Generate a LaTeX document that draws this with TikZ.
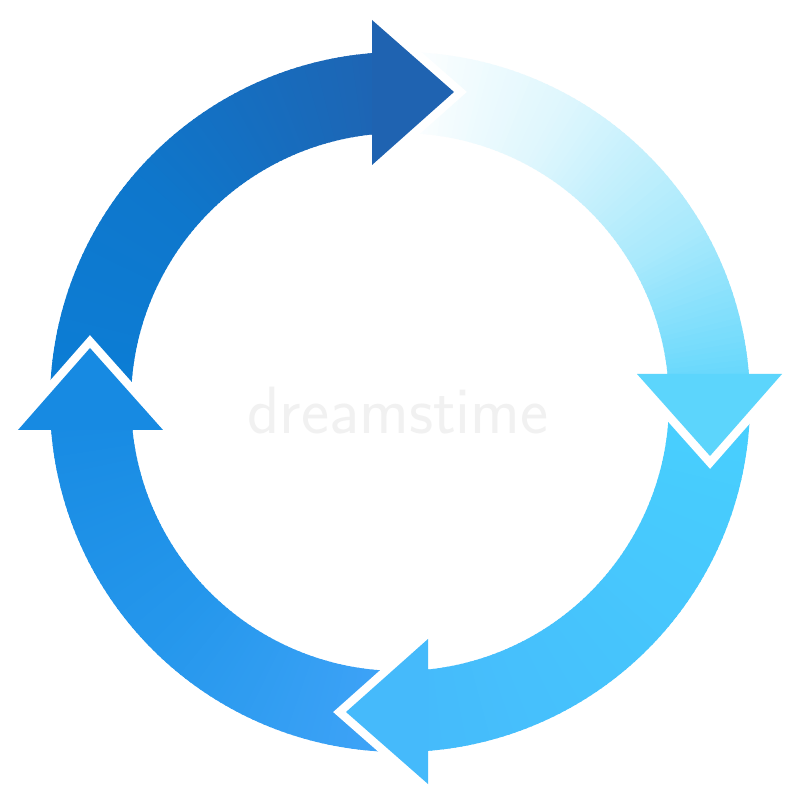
\documentclass[tikz,border=0pt]{standalone}
\begin{document}
\definecolor{topT}{HTML}{0C7ED6}
\definecolor{topM}{HTML}{0E77CC}
\definecolor{topH}{HTML}{1F63B1}
\definecolor{rgtM1}{HTML}{DDF6FD}
\definecolor{rgtM2}{HTML}{A8E9FC}
\definecolor{rgtH}{HTML}{5CD5FC}
\definecolor{botT}{HTML}{48D0FE}
\definecolor{botH}{HTML}{45BAFB}
\definecolor{lftT}{HTML}{40A4F8}
\definecolor{lftM}{HTML}{2597EC}
\definecolor{lftH}{HTML}{178AE2}
\definecolor{wmgray}{HTML}{F1F1F1}
\def\rin{269}
\def\rout{350}
\newcommand\ringgrad[4]{%
  \pgfmathtruncatemacro\rgn{#2-#1}%
  \foreach \k in {1,...,\rgn}{%
    \pgfmathsetmacro\ra{#1+\k-1}%
    \pgfmathsetmacro\rb{#1+\k+0.3}%
    \pgfmathtruncatemacro\rp{100*(\k-0.5)/\rgn}%
    \colorlet{rgc}{#4!\rp!#3}%
    \fill[rgc] (\ra:\rin) arc[start angle=\ra, end angle=\rb, radius=\rin]
      -- (\rb:\rout) arc[start angle=\rb, end angle=\ra, radius=\rout] -- cycle;
  }%
}
\tikzset{headrim/.style={draw=white, line width=0.17cm, line join=miter}}
\newcommand\arrowhd[2]{%
  \begin{scope}[rotate=#1]
    \draw[headrim] (-28,382) -- (54,310) -- (-28,237);
    \fill[#2] (-28,382) -- (54,310) -- (-28,237) -- cycle;
  \end{scope}}
\begin{tikzpicture}[x=0.01cm,y=0.01cm]
  \useasboundingbox[fill=white] (-400,-402) rectangle (400,402);
  % watermark
  \node[text=wmgray, font=\sffamily\fontsize{19}{19}\selectfont] (wm) at (-2,-9) {dreamstime};
  % bodies
  \ringgrad{90}{140}{topH}{topM}
  \ringgrad{140}{180}{topM}{topT}
  \ringgrad{0}{30}{rgtH}{rgtM2}
  \ringgrad{30}{60}{rgtM2}{rgtM1}
  \ringgrad{60}{90}{rgtM1}{white}
  \ringgrad{270}{360}{botH}{botT}
  \ringgrad{180}{225}{lftH}{lftM}
  \ringgrad{225}{270}{lftM}{lftT}
  % heads
  \arrowhd{0}{topH}
  \arrowhd{-90}{rgtH}
  \arrowhd{-180}{botH}
  \arrowhd{90}{lftH}
\end{tikzpicture}
\end{document}
